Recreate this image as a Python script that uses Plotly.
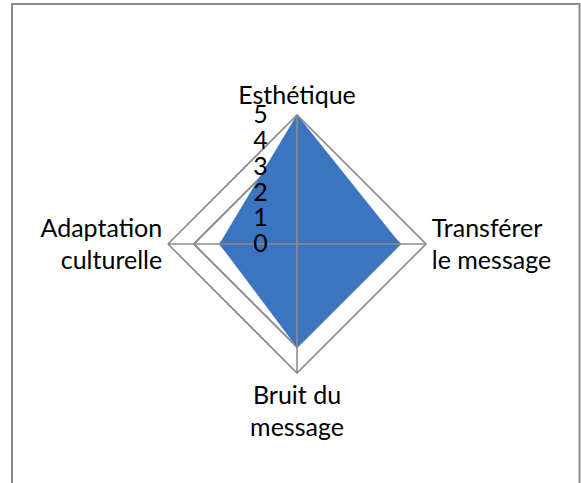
import plotly.graph_objects as go

categories = ["Esthétique", "Transférer<br>le message", "Bruit du<br>message", "Adaptation<br>culturelle"]
values = [5, 4, 4, 3]
radial_ticks = [0, 1, 2, 3, 4, 5]
r_max = 5

W, H = 581, 483
cx, cy, rad = 297, 244, 129

fig = go.Figure()

fig.add_trace(go.Scatterpolar(
    r=values + [values[0]],
    theta=categories + [categories[0]],
    mode="lines",
    fill="toself",
    fillcolor="#3B75C0",
    line=dict(color="#3B75C0", width=0.5),
    hoverinfo="skip",
))

# spokes drawn above the fill (as in the original)
spoke_r, spoke_t = [], []
for c in categories:
    spoke_r += [0, r_max, None]
    spoke_t += [c, c, None]
fig.add_trace(go.Scatterpolar(
    r=spoke_r, theta=spoke_t, mode="lines",
    line=dict(color="#8C8C8C", width=1.6),
    hoverinfo="skip", connectgaps=False,
))

font = "Lato, Calibri, Carlito, sans-serif"

fig.update_layout(
    width=W, height=H,
    margin=dict(l=0, r=0, t=0, b=0),
    paper_bgcolor="white",
    plot_bgcolor="white",
    showlegend=False,
    font=dict(family=font, size=25, color="black"),
    polar=dict(
        domain=dict(x=[(cx - rad) / W, (cx + rad) / W],
                    y=[1 - (cy + rad) / H, 1 - (cy - rad) / H]),
        bgcolor="white",
        gridshape="linear",
        radialaxis=dict(
            range=[0, r_max], tickvals=radial_ticks,
            angle=90, side="counterclockwise", tickangle=90,
            showline=False, showgrid=True,
            gridcolor="#8C8C8C", gridwidth=1.6,
            ticks="outside", ticklen=20, tickcolor="rgba(0,0,0,0)",
            tickfont=dict(family=font, size=25, color="black"),
        ),
        angularaxis=dict(
            rotation=90, direction="clockwise",
            showline=True, linecolor="#8C8C8C", linewidth=1.6,
            showgrid=False, ticks="",
            tickfont=dict(family=font, size=25, color="black"),
        ),
    ),
    shapes=[dict(type="rect", xref="paper", yref="paper",
                 x0=12 / W, x1=579.5 / W, y0=-0.02, y1=1 - 4 / H,
                 line=dict(color="#8C8C8C", width=2), fillcolor="rgba(0,0,0,0)")],
)

fig.write_html("out.html", config={"displayModeBar": False},
               post_script="document.body.style.margin='0px';")
